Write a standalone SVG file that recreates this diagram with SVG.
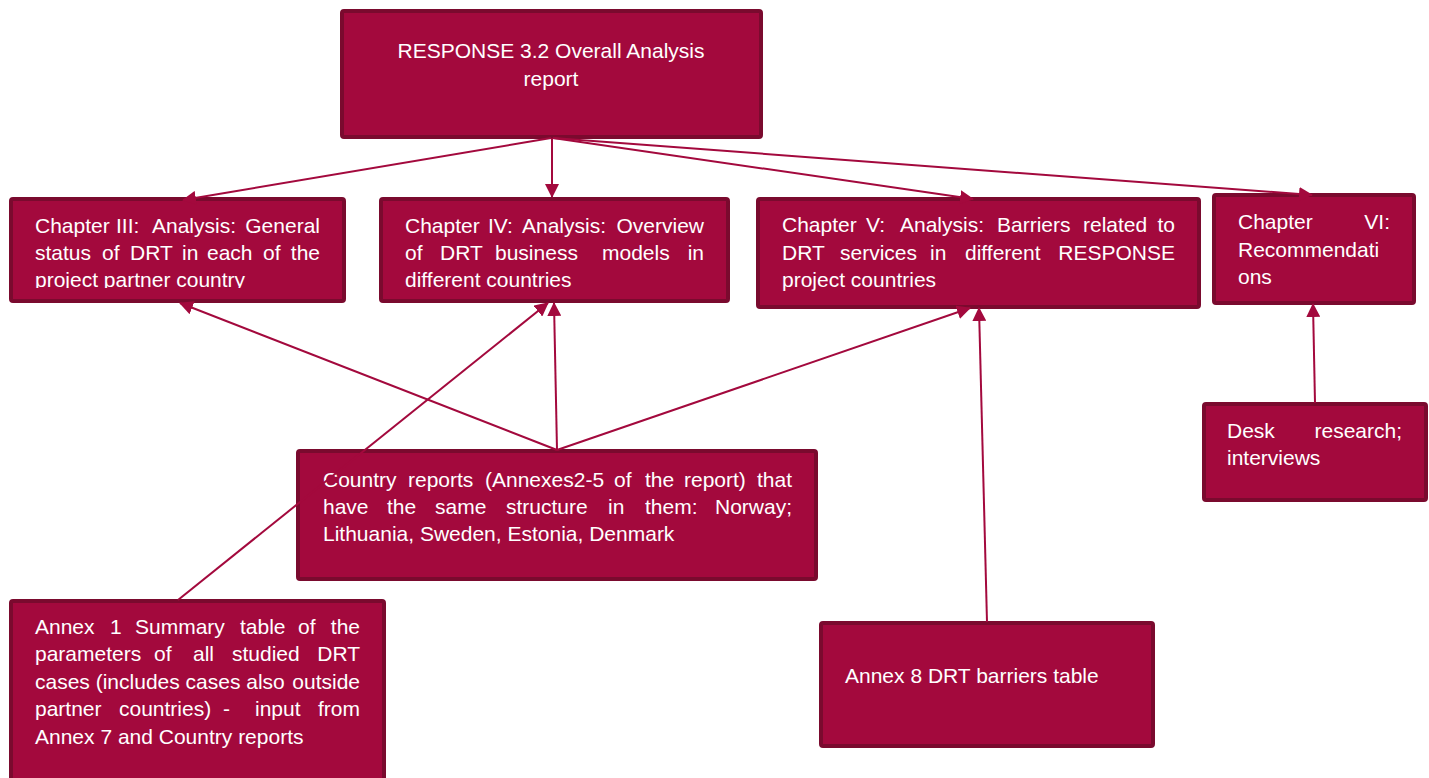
<svg xmlns="http://www.w3.org/2000/svg" width="1429" height="778" viewBox="0 0 1429 778">
  <style>
    .box { fill: #A3093D; stroke: #7A0A2E; stroke-width: 4; }
    .t { font-family: "Liberation Sans", Arial, sans-serif; font-size: 21px; fill: #FFFFFF; }
    .c { text-anchor: middle; }
    .e { text-anchor: end; }
    .arrow { stroke: #A3093D; stroke-width: 2; fill: none; marker-end: url(#head); }
  </style>
  <defs>
    <marker id="head" viewBox="0 0 14 14" refX="13" refY="7" markerWidth="14" markerHeight="14" markerUnits="userSpaceOnUse" orient="auto">
      <path d="M0,0 L14,7 L0,14 Z" fill="#A3093D"/>
    </marker>
    <clipPath id="clip3">
      <rect x="10" y="198" width="334" height="90"/>
    </clipPath>
  </defs>
  <rect width="1429" height="778" fill="#FFFFFF"/>

  <!-- Report root -->
  <g id="report">
    <rect class="box" x="342" y="11" width="419" height="126" rx="2"/>
    <text class="t c" x="551" y="58">RESPONSE 3.2 Overall Analysis</text>
    <text class="t c" x="551" y="86">report</text>
  </g>

  <!-- Chapter III -->
  <g id="chapter3">
    <rect class="box" x="11" y="199" width="333" height="102" rx="2"/>
    <g clip-path="url(#clip3)">
      <text class="t" y="233"><tspan x="35">Chapter</tspan><tspan x="116">III:</tspan><tspan x="152">Analysis:</tspan><tspan x="320" class="e">General</tspan></text>
      <text class="t" y="260"><tspan x="35">status</tspan><tspan x="102">of</tspan><tspan x="130">DRT</tspan><tspan x="182">in</tspan><tspan x="207">each</tspan><tspan x="263">of</tspan><tspan x="320" class="e">the</tspan></text>
      <text class="t" x="35" y="287">project partner country</text>
    </g>
  </g>

  <!-- Chapter IV -->
  <g id="chapter4">
    <rect class="box" x="381" y="199" width="347" height="102" rx="2"/>
    <text class="t" y="233"><tspan x="405">Chapter</tspan><tspan x="488">IV:</tspan><tspan x="522">Analysis:</tspan><tspan x="704" class="e">Overview</tspan></text>
    <text class="t" y="260"><tspan x="405">of</tspan><tspan x="440">DRT</tspan><tspan x="495">business</tspan><tspan x="602">models</tspan><tspan x="704" class="e">in</tspan></text>
    <text class="t" x="405" y="287">different countries</text>
  </g>

  <!-- Chapter V -->
  <g id="chapter5">
    <rect class="box" x="758" y="199" width="441" height="108" rx="2"/>
    <text class="t" y="232"><tspan x="782">Chapter</tspan><tspan x="866">V:</tspan><tspan x="900">Analysis:</tspan><tspan x="997">Barriers</tspan><tspan x="1083">related</tspan><tspan x="1175" class="e">to</tspan></text>
    <text class="t" y="260"><tspan x="782">DRT</tspan><tspan x="840">services</tspan><tspan x="930">in</tspan><tspan x="965">different</tspan><tspan x="1175" class="e">RESPONSE</tspan></text>
    <text class="t" x="782" y="287">project countries</text>
  </g>

  <!-- Chapter VI -->
  <g id="chapter6">
    <rect class="box" x="1214" y="195" width="200" height="108" rx="2"/>
    <text class="t" y="229"><tspan x="1238">Chapter</tspan><tspan x="1390" class="e">VI:</tspan></text>
    <text class="t" x="1238" y="257">Recommendati</text>
    <text class="t" x="1238" y="284">ons</text>
  </g>

  <!-- Desk research -->
  <g id="desk">
    <rect class="box" x="1204" y="404" width="222" height="96" rx="2"/>
    <text class="t" y="438"><tspan x="1227">Desk</tspan><tspan x="1402" class="e">research;</tspan></text>
    <text class="t" x="1227" y="465">interviews</text>
  </g>

  <!-- Country reports -->
  <g id="country">
    <rect class="box" x="298" y="451" width="518" height="128" rx="2"/>
    <text class="t" y="487"><tspan x="323">Country</tspan><tspan x="408">reports</tspan><tspan x="485">(Annexes2-5</tspan><tspan x="614">of</tspan><tspan x="645">the</tspan><tspan x="684">report)</tspan><tspan x="792" class="e">that</tspan></text>
    <text class="t" y="514"><tspan x="323">have</tspan><tspan x="387">the</tspan><tspan x="435">same</tspan><tspan x="506">structure</tspan><tspan x="608">in</tspan><tspan x="645">them:</tspan><tspan x="792" class="e">Norway;</tspan></text>
    <text class="t" x="323" y="541">Lithuania, Sweden, Estonia, Denmark</text>
  </g>

  <!-- Annex 1 -->
  <g id="annex1">
    <rect class="box" x="11" y="601" width="373" height="182" rx="2"/>
    <text class="t" y="634"><tspan x="35">Annex</tspan><tspan x="110">1</tspan><tspan x="135">Summary</tspan><tspan x="240">table</tspan><tspan x="298">of</tspan><tspan x="360" class="e">the</tspan></text>
    <text class="t" y="661"><tspan x="35">parameters</tspan><tspan x="154">of</tspan><tspan x="193">all</tspan><tspan x="232">studied</tspan><tspan x="360" class="e">DRT</tspan></text>
    <text class="t" y="689"><tspan x="35">cases (includes cases also</tspan><tspan x="360" class="e">outside</tspan></text>
    <text class="t" y="716"><tspan x="35">partner</tspan><tspan x="119">countries)</tspan><tspan x="223">-</tspan><tspan x="255">input</tspan><tspan x="360" class="e">from</tspan></text>
    <text class="t" x="35" y="744">Annex 7 and Country reports</text>
  </g>

  <!-- Annex 8 -->
  <g id="annex8">
    <rect class="box" x="821" y="623" width="332" height="123" rx="2"/>
    <text class="t" x="845" y="683">Annex 8 DRT barriers table</text>
  </g>

  <!-- Connectors -->
  <g id="connectors">
    <line class="arrow" x1="551" y1="138" x2="183" y2="200"/>
    <line class="arrow" x1="552" y1="138" x2="552" y2="197"/>
    <line class="arrow" x1="553" y1="138" x2="973" y2="199"/>
    <line class="arrow" x1="553" y1="138" x2="1312" y2="195"/>
    <line class="arrow" x1="557" y1="450" x2="180" y2="303"/>
    <line class="arrow" x1="557" y1="450" x2="554" y2="303"/>
    <line class="arrow" x1="557" y1="450" x2="970" y2="308"/>
    <line class="arrow" x1="178" y1="600" x2="548" y2="303"/>
    <line class="arrow" x1="987" y1="622" x2="979" y2="308"/>
    <line class="arrow" x1="1315" y1="403" x2="1313" y2="304"/>
  </g>
</svg>
